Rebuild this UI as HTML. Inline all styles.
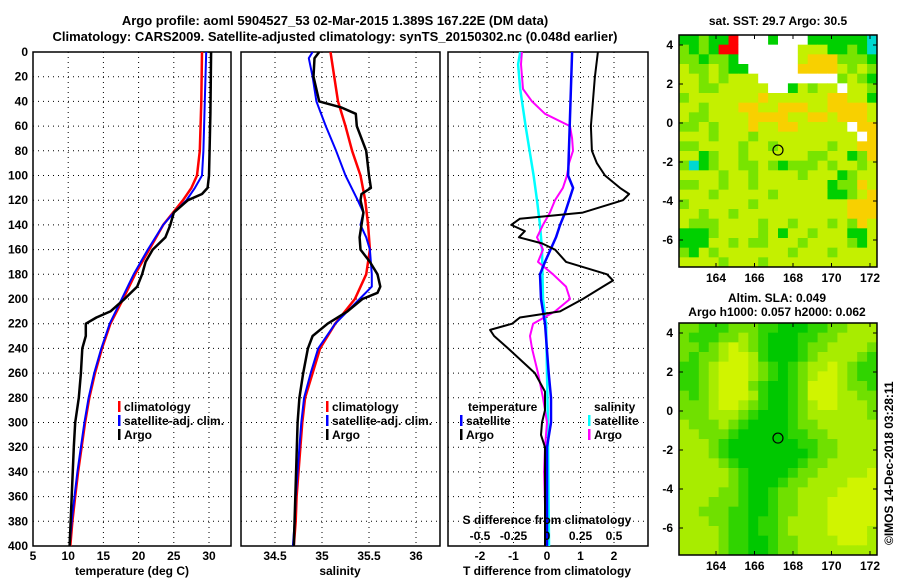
<!DOCTYPE html>
<html><head><meta charset="utf-8">
<style>
html,body{margin:0;padding:0;background:#fff;}
svg{display:block;font-family:"Liberation Sans",sans-serif;font-weight:bold;}
text{font-size:12px;fill:#000;}
</style></head>
<body>
<svg id="fig" width="900" height="580" viewBox="0 0 900 580" xmlns="http://www.w3.org/2000/svg">
<text x="335" y="25" text-anchor="middle" style="font-size:13px">Argo profile: aoml 5904527_53 02-Mar-2015 1.389S 167.22E (DM data)</text>
<text x="335" y="41" text-anchor="middle" style="font-size:13px">Climatology: CARS2009. Satellite-adjusted climatology: synTS_20150302.nc (0.048d earlier)</text>
<text x="778" y="25" text-anchor="middle">sat. SST: 29.7 Argo: 30.5</text>
<text x="777" y="302" text-anchor="middle">Altim. SLA: 0.049</text>
<text x="777" y="316" text-anchor="middle">Argo h1000: 0.057 h2000: 0.062</text>
<text transform="translate(893,545) rotate(-90)">©IMOS 14-Dec-2018 03:28:11</text>
<g id="plots"></g>
</svg>
<script>
// ---- data ----
const depthTicks = [0,20,40,60,80,100,120,140,160,180,200,220,240,260,280,300,320,340,360,380,400];
const tTicks = [5,10,15,20,25,30];
const sTicks = [34.5,35,35.5,36];
const sTickLabels = ["34.5","35","35.5","36"];
const dTTicks = [-2,-1,0,1,2];
const dSTicks = [-0.5,-0.25,0,0.25,0.5];
const dSTickLabels = ["-0.5","-0.25","0","0.25","0.5"];
const mapLonTicks = [164,166,168,170,172];
const mapLatTicks = [4,2,0,-2,-4,-6];

const tClimDepth = [0,40,80,100,110,120,140,160,180,200,220,240,260,280,300,320,340,360,380,400];
const tClimVal   = [29.0,28.9,28.7,28.3,27.5,26.3,23.5,21.5,19.5,17.8,16.0,14.8,13.8,13.0,12.4,11.9,11.4,11.0,10.6,10.3];
const tSatDepth  = [0,40,80,100,110,120,130,140,160,180,200,220,240,260,280,300,320,340,360,380,400];
const tSatVal    = [29.6,29.4,29.2,29.0,28.0,26.8,25.0,23.5,21.3,19.3,17.6,15.9,14.7,13.7,12.9,12.3,11.8,11.3,10.9,10.5,10.2];
const tArgoDepth = [0,50,100,110,115,120,130,140,150,160,170,180,190,200,210,215,220,230,240,260,280,300,320,360,400];
const tArgoVal   = [30.3,30.2,30.0,29.8,29.0,27.0,25.0,24.5,23.8,22.0,21.0,20.5,19.8,18.0,16.0,14.0,12.5,12.5,12.0,11.8,11.5,11.0,10.8,10.5,10.2];

const sClimDepth = [0,40,60,80,100,120,140,160,180,200,220,240,260,280,300,320,340,360,380,400];
const sClimVal   = [35.09,35.17,35.25,35.32,35.41,35.46,35.49,35.51,35.47,35.35,35.14,34.98,34.90,34.82,34.79,34.77,34.75,34.73,34.72,34.70];
const sSatDepth  = [0,5,20,40,60,80,100,120,130,140,150,160,180,190,200,220,240,260,280,300,320,340,360,380,400];
const sSatVal    = [34.90,34.86,34.90,34.94,35.04,35.15,35.25,35.38,35.44,35.41,35.47,35.51,35.53,35.53,35.40,35.14,34.96,34.88,34.81,34.78,34.76,34.74,34.72,34.71,34.69];
const sArgoDepth = [0,5,20,40,45,50,60,80,100,110,115,120,130,150,160,170,180,190,195,200,210,220,230,240,260,280,300,400];
const sArgoVal   = [34.97,34.92,34.91,34.97,35.21,35.36,35.37,35.47,35.50,35.52,35.42,35.41,35.44,35.40,35.41,35.51,35.59,35.62,35.59,35.43,35.27,35.06,34.90,34.85,34.80,34.76,34.74,34.70];

const dTSatDepth = [0,50,100,110,130,140,150,170,180,200,210,220,260,280,300,320,400];
const dTSatVal   = [0.75,0.69,0.63,0.78,0.54,0.39,0.27,-0.06,-0.21,-0.18,-0.12,-0.06,0.05,0.12,0.12,0.0,0.0];
const dTArgoDepth = [0,20,50,60,80,90,100,110,115,120,130,135,140,145,150,155,160,170,180,185,190,200,210,215,220,225,230,240,260,275,290,300,310,320,400];
const dTArgoVal   = [1.52,1.43,1.34,1.31,1.34,1.49,1.73,2.18,2.45,2.27,1.07,-0.81,-1.07,-0.66,-0.84,-0.15,0.24,0.57,1.79,1.97,1.67,1.07,0.39,-0.81,-1.04,-1.70,-1.58,-1.16,-0.36,-0.06,-0.06,-0.15,-0.18,-0.06,-0.06];
const dSSatDepth = [0,10,30,60,100,120,140,160,200,220,300,400];
const dSSatVal   = [-0.20,-0.216,-0.20,-0.16,-0.10,-0.075,-0.052,-0.037,-0.03,-0.007,0.007,0.015];
const dSArgoDepth = [0,10,30,40,50,60,70,80,90,100,110,120,130,140,150,160,170,180,190,200,210,220,230,240,260,280,300,320,340,400];
const dSArgoVal   = [-0.187,-0.194,-0.179,-0.112,-0.015,0.172,0.187,0.194,0.164,0.149,0.119,0.060,0.022,-0.030,-0.075,-0.030,-0.067,0.045,0.142,0.172,0.060,-0.104,-0.127,-0.112,-0.067,-0.030,0.0,-0.015,-0.022,-0.007];

const sstRows = [
"gglggrwwwgwwwggggggc","lglgrrwwwwwwyyygglgc","llgllgwwwwwwyooolllg","yllylggwwwwwooooylyl",
"yylylyyywwwwwwwwlylg","yyllyyyyywwgylyywyyl","lyyyyyyyoyyyyyyooyyg","yylyyyooyyoooyyooooy",
"yllyyyyooooyyooyoooy","llylyyyoyyooyyyyywoo","yyylyyylyyyyyyyyyywo","llyyyylyylyyyyylyyoo",
"yyglyylyyyyyyllyyglo","lcglyyllylglllylyyly","yyyylyylyyyylyyyglyy","llyylyylyyyyyyyglloy",
"yyylyyyyylyyyyygglyo","lyyyyyylyyyyyyyyyooo","yylyylyyyyyyyyyyyooo","ylllyyyylyylyyylyloy",
"ggglyyyylygyylyyyggy","gggyylyllyyylyyyylgy","lgylyyyyyyylyyylyyyy","yyyylyyylyyyyyyyyyyy"];
const slaRows = [
"22111222110001122333","21112232100011223333","22123432100012233332","21223443100012333321",
"11234443210123343211","11234443210123443211","11234442100124443221","21234443100124443322",
"22234432100123443332","22233321000123333332","32223210000122333333","33222100000112233333",
"33321000000011223333","33321000000001223333","33332100000012233333","33333210000122333334",
"33333210001223333444","33332210012233334444","33322210012233344444","33222110012233344444",
"33322110112333344444","33332110112333344443","33332110012233334443","33332110012233333333"];
const argoLon = 167.22, argoLat = -1.389;

// ---- helpers ----
const NS = "http://www.w3.org/2000/svg";
const root = document.getElementById('plots');
function el(tag, attrs, parent){ const e=document.createElementNS(NS,tag); for(const k in attrs) e.setAttribute(k,attrs[k]); (parent||root).appendChild(e); return e; }
function txt(x,y,s,anchor,parent){ const t=el('text',{x:x,y:y,'text-anchor':anchor||'middle'},parent); t.textContent=s; return t; }

const Y0=52, Y1=546;
const yD = d => Y0 + (d/400)*(Y1-Y0);
function lin(d0,d1,r0,r1){ return v => r0 + (v-d0)/(d1-d0)*(r1-r0); }
const panels = [
 {name:'temperature-panel', x0:33, x1:231, sx: lin(5,30,33,209)},
 {name:'salinity-panel', x0:241, x1:440, sx: lin(34.5,36,275,416)},
 {name:'difference-panel', x0:448, x1:648, sx: lin(-2,2,480,614)}
];
const sxS = lin(-0.5,0.5,480,614);

panels.forEach((p,i)=>{
  const g = el('g',{});
  
  
  // horizontal grid
  depthTicks.forEach(d=>{
    if(d===0||d===400) return;
    const l=el('line',{x1:p.x0,x2:p.x1,y1:yD(d),y2:yD(d),stroke:'#000','stroke-width':1,'stroke-dasharray':'1,4'},g);
    
    
  });
  const ticks = i===0?tTicks:(i===1?sTicks:dTTicks);
  ticks.forEach(v=>{
    const x=p.sx(v);
    const l=el('line',{x1:x,x2:x,y1:Y0,y2:Y1,stroke:'#000','stroke-width':1,'stroke-dasharray':'1,4'},g);
    
    
  });
  const fr=el('rect',{x:p.x0,y:Y0,width:p.x1-p.x0,height:Y1-Y0,fill:'none',stroke:'#000','stroke-width':1.5},g);
  
  
  p.g=g;
});

// y tick labels
depthTicks.forEach(d=>{
  const t=txt(28,yD(d)+4,String(d),'end');
  
  
});
// x tick labels
tTicks.forEach(v=>{ const t=txt(panels[0].sx(v),560,String(v));   });
sTicks.forEach((v,i)=>{ const t=txt(panels[1].sx(v),560,sTickLabels[i]);   });
dTTicks.forEach(v=>{ const t=txt(panels[2].sx(v),560,String(v));   });
dSTicks.forEach((v,i)=>{ const t=txt(sxS(v),540,dSTickLabels[i]);   });
let t;
t=txt(132,575,'temperature (deg C)');  
t=txt(340,575,'salinity');  
t=txt(547,575,'T difference from climatology');  
t=txt(547,524,'S difference from climatology');  

function line(parent, depths, vals, sx, color, w, name){
  const pts = depths.map((d,i)=> sx(vals[i]).toFixed(1)+','+yD(d).toFixed(1)).join(' ');
  const pl = el('polyline',{points:pts,fill:'none',stroke:color,'stroke-width':w,'stroke-linejoin':'round'},parent);
  
  
}
line(panels[0].g,tClimDepth,tClimVal,panels[0].sx,'#f00',2.5,'temperature-climatology-line');
line(panels[0].g,tSatDepth,tSatVal,panels[0].sx,'#00f',2,'temperature-satellite-line');
line(panels[0].g,tArgoDepth,tArgoVal,panels[0].sx,'#000',2.5,'temperature-argo-line');
line(panels[1].g,sClimDepth,sClimVal,panels[1].sx,'#f00',2.5,'salinity-climatology-line');
line(panels[1].g,sSatDepth,sSatVal,panels[1].sx,'#00f',2,'salinity-satellite-line');
line(panels[1].g,sArgoDepth,sArgoVal,panels[1].sx,'#000',2.5,'salinity-argo-line');
line(panels[2].g,dSSatDepth,dSSatVal,sxS,'#0ff',2.5,'s-diff-satellite-line');
line(panels[2].g,dSArgoDepth,dSArgoVal,sxS,'#f0f',2,'s-diff-argo-line');
line(panels[2].g,dTSatDepth,dTSatVal,panels[2].sx,'#00f',2.5,'t-diff-satellite-line');
line(panels[2].g,dTArgoDepth,dTArgoVal,panels[2].sx,'#000',2,'t-diff-argo-line');

function legendEntry(x,y,color,label,name){
  const g=el('g',{});
  
  
  el('rect',{x:x,y:y-10,width:2.5,height:11,fill:color},g);
  txt(x+6,y,label,'start',g);
}
legendEntry(118,411,'#f00','climatology','legend-entry-climatology');
legendEntry(118,425,'#00f','satellite-adj. clim.','legend-entry-satellite-adj');
legendEntry(118,439,'#000','Argo','legend-entry-argo');
legendEntry(326,411,'#f00','climatology','legend-entry-climatology-s');
legendEntry(326,425,'#00f','satellite-adj. clim.','legend-entry-satellite-adj-s');
legendEntry(326,439,'#000','Argo','legend-entry-argo-s');
t=txt(468,411,'temperature','start');  
t=txt(594,411,'salinity','start');  
legendEntry(460,425,'#00f','satellite','legend-entry-t-satellite');
legendEntry(460,439,'#000','Argo','legend-entry-t-argo');
legendEntry(588,425,'#0ff','satellite','legend-entry-s-satellite');
legendEntry(588,439,'#f0f','Argo','legend-entry-s-argo');

// ---- maps ----
const sstColors = {g:'#00d000',l:'#78e400',y:'#c4f000',o:'#f8d000',r:'#ff0000',c:'#00d8d0',w:'#ffffff'};
const slaColors = ['#00c800','#30d400','#70e000','#a8ec00','#d0f400'];
function drawMap(name, top, rows, colorOf){
  const L=679,R=877,T=top,B=top+232;
  const lonX = lin(164,172,716,870);
  const latY = lin(4,-6,T+10,T+205);
  const g=el('g',{});
  
  
  const nr=rows.length, nc=rows[0].length;
  const cw=(R-L)/nc, ch=(B-T)/nr;
  rows.forEach((row,ri)=>{
    for(let ci=0;ci<nc;ci++){
      const c=el('rect',{x:(L+ci*cw).toFixed(2),y:(T+ri*ch).toFixed(2),width:(cw+0.4).toFixed(2),height:(ch+0.4).toFixed(2),fill:colorOf(row[ci])},g);
      
      
    }
  });
  const fr=el('rect',{x:L,y:T,width:R-L,height:B-T,fill:'none',stroke:'#000','stroke-width':1.5},g);
  
  
  mapLonTicks.forEach(v=>{
    const x=lonX(v);
    el('line',{x1:x,x2:x,y1:B,y2:B-4,stroke:'#000'},g);
    el('line',{x1:x,x2:x,y1:T,y2:T+4,stroke:'#000'},g);
    const tl=txt(x,B+15,String(v),'middle',g);
    
    
  });
  mapLatTicks.forEach(v=>{
    const y=latY(v);
    el('line',{x1:L,x2:L+4,y1:y,y2:y,stroke:'#000'},g);
    el('line',{x1:R,x2:R-4,y1:y,y2:y,stroke:'#000'},g);
    const tl=txt(673,y+4,String(v),'end',g);
    
    
  });
  const m=el('circle',{cx:lonX(argoLon),cy:latY(argoLat),r:5,fill:'none',stroke:'#000','stroke-width':1.2},g);
  
  
}
drawMap('sst-map',35,sstRows,ch=>sstColors[ch]);
drawMap('sla-map',323,slaRows,ch=>slaColors[+ch]);
</script>
</body></html>
